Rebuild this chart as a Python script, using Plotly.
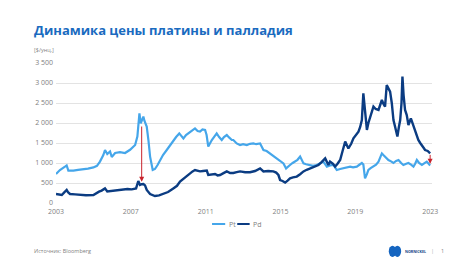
import plotly.graph_objects as go

# ---- data (decimal years, USD/oz) ----
pt_years = [2003.00, 2003.21, 2003.48, 2003.57, 2003.66, 2003.93, 2004.18, 2004.46, 2004.71, 2005.00,
            2005.19, 2005.35, 2005.53, 2005.62, 2005.74, 2005.89, 2005.98, 2006.16, 2006.42, 2006.69,
            2006.96, 2007.23, 2007.35, 2007.46, 2007.53, 2007.60, 2007.67, 2007.73, 2007.85, 2007.94,
            2008.03, 2008.17, 2008.29, 2008.43, 2008.56, 2008.72, 2008.92, 2009.10, 2009.27, 2009.42,
            2009.59, 2009.68, 2009.81, 2009.95, 2010.17, 2010.30, 2010.43, 2010.57, 2010.70, 2010.83,
            2010.97, 2011.05, 2011.14, 2011.33, 2011.45, 2011.59, 2011.72, 2011.86, 2011.98, 2012.13,
            2012.25, 2012.40, 2012.48, 2012.66, 2012.84, 2013.00, 2013.20, 2013.37, 2013.55, 2013.70,
            2013.91, 2014.09, 2014.26, 2014.44, 2014.60, 2014.80, 2014.98, 2015.16, 2015.30, 2015.41,
            2015.51, 2015.65, 2015.78, 2015.91, 2016.05, 2016.23, 2016.37, 2016.58, 2016.74, 2016.94,
            2017.12, 2017.29, 2017.48, 2017.65, 2017.83, 2018.01, 2018.19, 2018.36, 2018.54, 2018.72,
            2018.88, 2019.08, 2019.20, 2019.35, 2019.43, 2019.52, 2019.62, 2019.70, 2019.82, 2019.97,
            2020.11, 2020.24, 2020.33, 2020.42, 2020.50, 2020.59, 2020.68, 2020.77, 2020.91, 2021.04,
            2021.18, 2021.31, 2021.45, 2021.57, 2021.72, 2021.84, 2021.98, 2022.11, 2022.20, 2022.29,
            2022.41, 2022.56, 2022.68, 2022.82, 2022.92, 2023.00]
pt_values = [725, 825, 910, 940, 810, 810, 830, 840, 860, 890,
             930, 1035, 1200, 1325, 1225, 1290, 1150, 1250, 1270, 1250,
             1330, 1450, 1660, 2240, 1990, 2080, 2160, 2050, 1910, 1575,
             1160, 825, 850, 950, 1075, 1200, 1325, 1450, 1575, 1650,
             1740, 1680, 1615, 1700, 1785, 1820, 1865, 1800, 1785, 1840,
             1825, 1700, 1410, 1575, 1650, 1740, 1650, 1575, 1650, 1700,
             1640, 1575, 1575, 1490, 1450, 1470, 1450, 1480, 1490, 1470,
             1490, 1325, 1300, 1240, 1180, 1115, 1060, 990, 865, 900,
             950, 1000, 1035, 1080, 1160, 990, 970, 950, 930, 950,
             1000, 1035, 910, 940, 950, 825, 850, 870, 880, 910,
             890, 910, 950, 1000, 960, 615, 720, 825, 870, 910,
             960, 1035, 1120, 1240, 1200, 1160, 1100, 1075, 1040, 1000,
             1050, 1075, 1000, 950, 980, 1000, 960, 910, 980, 1075,
             1000, 950, 990, 1035, 980, 940]

pd_years = [2003.00, 2003.13, 2003.31, 2003.43, 2003.57, 2003.64, 2003.75, 2004.02, 2004.28, 2004.60,
            2005.00, 2005.18, 2005.30, 2005.44, 2005.53, 2005.62, 2005.74, 2005.89, 2006.16, 2006.37,
            2006.60, 2006.82, 2007.05, 2007.17, 2007.28, 2007.40, 2007.49, 2007.58, 2007.67, 2007.76,
            2007.85, 2008.03, 2008.16, 2008.29, 2008.51, 2008.74, 2008.99, 2009.27, 2009.47, 2009.63,
            2009.79, 2009.99, 2010.17, 2010.30, 2010.43, 2010.57, 2010.70, 2010.86, 2011.06, 2011.14,
            2011.33, 2011.50, 2011.64, 2011.77, 2011.93, 2012.13, 2012.31, 2012.48, 2012.66, 2012.84,
            2013.11, 2013.37, 2013.64, 2013.91, 2014.09, 2014.34, 2014.62, 2014.77, 2014.89, 2014.98,
            2015.11, 2015.25, 2015.38, 2015.51, 2015.67, 2015.87, 2016.05, 2016.23, 2016.40, 2016.58,
            2016.80, 2017.03, 2017.17, 2017.29, 2017.39, 2017.56, 2017.65, 2017.81, 2017.92, 2018.05,
            2018.19, 2018.32, 2018.46, 2018.63, 2018.78, 2018.90, 2019.04, 2019.17, 2019.26, 2019.35,
            2019.43, 2019.50, 2019.56, 2019.62, 2019.70, 2019.79, 2019.88, 2019.97, 2020.09, 2020.24,
            2020.33, 2020.42, 2020.50, 2020.59, 2020.68, 2020.77, 2020.86, 2020.95, 2021.04, 2021.13,
            2021.25, 2021.33, 2021.40, 2021.47, 2021.52, 2021.58, 2021.66, 2021.75, 2021.84, 2021.97,
            2022.06, 2022.20, 2022.29, 2022.37, 2022.47, 2022.56, 2022.65, 2022.73, 2022.87, 2023.00]
pd_values = [225, 210, 200, 260, 325, 270, 225, 215, 200, 195,
             200, 260, 285, 310, 340, 365, 290, 300, 310, 325,
             340, 350, 340, 345, 365, 550, 450, 470, 475, 440,
             325, 225, 195, 175, 190, 225, 275, 365, 430, 535,
             600, 660, 730, 790, 825, 800, 790, 800, 810, 700,
             720, 725, 690, 700, 740, 790, 750, 750, 770, 790,
             770, 770, 800, 865, 790, 800, 790, 760, 700, 575,
             550, 510, 560, 615, 640, 660, 720, 790, 830, 865,
             900, 950, 1010, 1075, 1115, 950, 1035, 980, 910, 980,
             1075, 1300, 1535, 1365, 1480, 1615, 1700, 1785, 1900, 2075,
             2740, 2400, 2115, 1825, 2000, 2160, 2300, 2410, 2350, 2325,
             2450, 2575, 2480, 2410, 2950, 2850, 2785, 2500, 2075, 1900,
             1660, 1900, 2075, 2500, 3160, 2700, 2325, 2200, 1950, 2115,
             2000, 1785, 1700, 1575, 1500, 1450, 1380, 1325, 1300, 1240]

series_names = ["Pt", "Pd"]
x_ticks = [2003, 2007, 2011, 2015, 2019, 2023]
y_ticks = [0, 500, 1000, 1500, 2000, 2500, 3000, 3500]
y_tick_labels = ["0", "500", "1 000", "1 500", "2 000", "2 500", "3 000", "3 500"]

# red spread arrows (year, from value, to value)
arrow_years = [2007.58, 2023.0]
arrow_from = [1950, 1240]
arrow_to = [530, 980]

PT_COLOR = "#45A6EA"
PD_COLOR = "#0B3C82"
GRID = "#E3E3E3"
TXT = "#7F7F7F"
FONT = "Open Sans"
COLORS = [PT_COLOR, PD_COLOR]

fig = go.Figure()
fig.add_trace(go.Scatter(x=pt_years, y=pt_values, name=series_names[0], mode="lines",
                         line=dict(color=PT_COLOR, width=2.2)))
fig.add_trace(go.Scatter(x=pd_years, y=pd_values, name=series_names[1], mode="lines",
                         line=dict(color=PD_COLOR, width=2.4)))

for xa, y0, y1 in zip(arrow_years, arrow_from, arrow_to):
    fig.add_annotation(x=xa, y=y1, ax=xa, ay=y0, xref="x", yref="y", axref="x", ayref="y",
                       showarrow=True, arrowhead=2, arrowsize=1, arrowwidth=1,
                       arrowcolor="#C8232C", text="")

fig.update_layout(
    width=474, height=266,
    margin=dict(l=56, r=42, t=63, b=63),
    paper_bgcolor="white", plot_bgcolor="white",
    font=dict(family=FONT, size=7, color=TXT),
    showlegend=False,
    xaxis=dict(range=[2003, 2023.1], tickmode="array", tickvals=x_ticks,
               ticktext=[str(t) for t in x_ticks], showgrid=False, zeroline=False,
               showline=False, ticks="", ticklabelstandoff=3, tickfont=dict(size=7, color=TXT)),
    yaxis=dict(range=[0, 3500], tickmode="array", tickvals=y_ticks, ticktext=y_tick_labels,
               showgrid=True, gridcolor=GRID, gridwidth=1, zeroline=False, showline=False,
               ticks="", ticklen=0, ticklabelstandoff=2, tickfont=dict(size=7, color=TXT)),
)

# manual compact legend
leg_y = -0.15
leg_x = [(0.415, 0.450, 0.454), (0.482, 0.515, 0.519)]
for (lx0, lx1, tx), name, col in zip(leg_x, series_names, COLORS):
    fig.add_shape(type="line", xref="paper", yref="paper", x0=lx0, x1=lx1, y0=leg_y, y1=leg_y,
                  line=dict(color=col, width=2))
    fig.add_annotation(xref="paper", yref="paper", x=tx, y=leg_y, xanchor="left", yanchor="middle",
                       text=name, showarrow=False, font=dict(family=FONT, size=7, color=TXT))

fig.add_annotation(xref="paper", yref="paper", x=-0.064, y=1.235, xanchor="left", yanchor="middle",
                   text="<b>Динамика цены платины и палладия</b>", showarrow=False,
                   font=dict(family=FONT, size=13, color="#1A6BC0"))
fig.add_annotation(xref="paper", yref="paper", x=-0.064, y=1.095, xanchor="left", yanchor="middle",
                   text="[$/унц.]", showarrow=False, font=dict(family=FONT, size=5.5, color=TXT))
fig.add_annotation(xref="paper", yref="paper", x=-0.064, y=-0.343, xanchor="left", yanchor="middle",
                   text="Источник: Bloomberg", showarrow=False,
                   font=dict(family=FONT, size=5.5, color=TXT))
# logo
fig.add_shape(type="circle", xref="paper", yref="paper", x0=0.885, x1=0.905, y0=-0.385, y1=-0.305,
              fillcolor="#1565C0", line=dict(width=0))
fig.add_shape(type="circle", xref="paper", yref="paper", x0=0.898, x1=0.918, y0=-0.385, y1=-0.305,
              fillcolor="#1565C0", line=dict(width=0))
fig.add_annotation(xref="paper", yref="paper", x=0.922, y=-0.343, xanchor="left", yanchor="middle",
                   text="<b>NORNICKEL</b>", showarrow=False,
                   font=dict(family=FONT, size=3.6, color="#0B3C82"))
fig.add_annotation(xref="paper", yref="paper", x=1.0, y=-0.343, xanchor="center", yanchor="middle",
                   text="|", showarrow=False, font=dict(family=FONT, size=5.5, color="#AAAAAA"))
fig.add_annotation(xref="paper", yref="paper", x=1.027, y=-0.343, xanchor="center", yanchor="middle",
                   text="1", showarrow=False, font=dict(family=FONT, size=5.5, color=TXT))

fig.write_html("out.html")
